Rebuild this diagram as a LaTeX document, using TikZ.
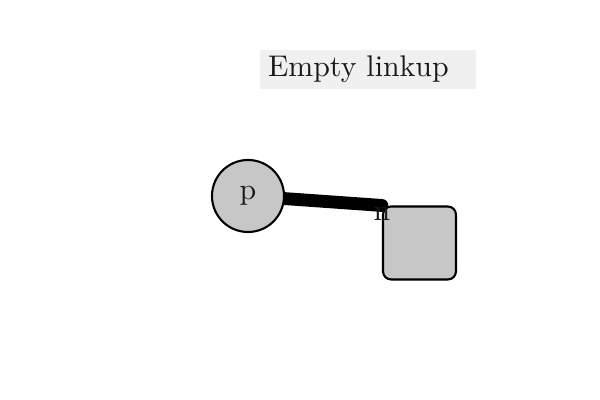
\documentclass[tikz,border=0pt]{standalone}
\usepackage{xcolor}
\usepackage{tikz}
\usetikzlibrary{positioning}

\tikzset{
  blob/.style={circle, draw=black, line width=0.7pt, fill=black!22, minimum size=0.847cm, inner sep=0pt, text=black!90},
  box/.style={rectangle, rounded corners=2.7pt, draw=black, line width=0.7pt, fill=black!22, minimum size=0.858cm, inner sep=0pt},
  banner/.style={rectangle, fill=black!6, text width=2.35cm, align=left, minimum height=0.458cm, inner xsep=2.7pt, inner ysep=2pt, text=black!90},
  linkup/.style={line width=4.3pt, line cap=round}
}

\begin{document}
\begin{tikzpicture}[x=1.1759cm, y=1.1759cm]
        %\draw [step=1] (0,0) grid (6,4);
        \useasboundingbox (0,0) rectangle (6,4);

        \node[banner] (title) at (3.68,3.305) {Empty linkup};
        \node[box] (n) at (4.195,1.57) {};
        \coordinate (pc) at (2.48,2.04);
        \draw[linkup] (pc) -- (n.north west);
        \node[blob] (p) at (pc) {p};
        \node[text=black!90, inner sep=0pt] (nlabel) at ([yshift=-0.1cm]n.north west) {n};
    \end{tikzpicture}
\end{document}
